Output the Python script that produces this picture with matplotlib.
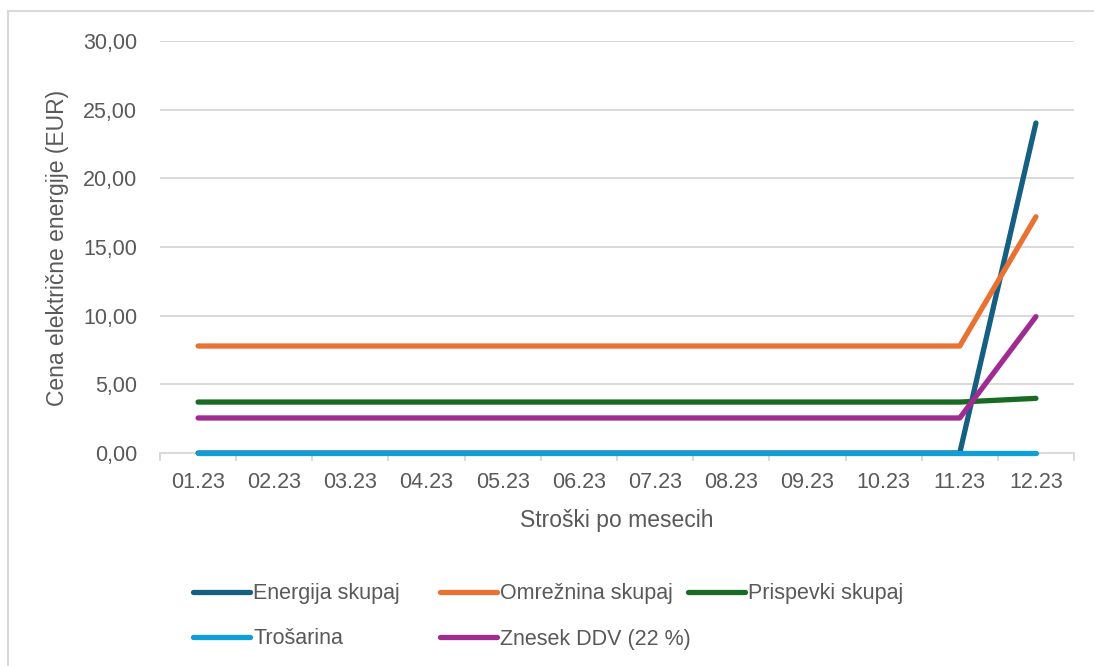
import matplotlib
matplotlib.use("Agg")
import matplotlib.pyplot as plt
from matplotlib.lines import Line2D
from matplotlib.patches import Rectangle
from matplotlib.ticker import FuncFormatter, FixedLocator

plt.rcParams['font.family'] = ['Liberation Sans', 'DejaVu Sans']

months = ["01.23", "02.23", "03.23", "04.23", "05.23", "06.23",
          "07.23", "08.23", "09.23", "10.23", "11.23", "12.23"]

energija = [0.00, 0.00, 0.00, 0.00, 0.00, 0.00, 0.00, 0.00, 0.00, 0.00, 0.00, 24.03]
omreznina = [7.79, 7.79, 7.79, 7.79, 7.79, 7.79, 7.79, 7.79, 7.79, 7.79, 7.79, 17.20]
prispevki = [3.71, 3.71, 3.71, 3.71, 3.71, 3.71, 3.71, 3.71, 3.71, 3.71, 3.71, 3.98]
trosarina = [0.00, 0.00, 0.00, 0.00, 0.00, 0.00, 0.00, 0.00, 0.00, 0.00, 0.00, 0.00]
ddv = [2.55, 2.55, 2.55, 2.55, 2.55, 2.55, 2.55, 2.55, 2.55, 2.55, 2.55, 9.93]

series_names = ["Energija skupaj", "Omrežnina skupaj", "Prispevki skupaj",
                "Trošarina", "Znesek DDV (22 %)"]
series_values = [energija, omreznina, prispevki, trosarina, ddv]
colors = ["#156082", "#E97132", "#196B24", "#0F9ED5", "#A02B93"]

W, H = 1094, 666
TEXT = "#595959"
GRID = "#D9D9D9"

fig = plt.figure(figsize=(W / 100, H / 100), dpi=100)
ax = fig.add_axes([160 / W, 1 - 453 / H, 914 / W, 412 / H])

x = list(range(len(months)))
# Draw in an order that keeps the flat light-blue line on top of the baseline
draw_order = [0, 1, 2, 4, 3]
for i in draw_order:
    ax.plot(x, series_values[i], color=colors[i], lw=3.8, clip_on=False,
            solid_capstyle='round', solid_joinstyle='round', zorder=3 + (i == 3))

ax.set_xlim(-0.5, len(months) - 0.5)
ax.set_ylim(0, 30)
ax.set_yticks([0, 5, 10, 15, 20, 25, 30])
ax.yaxis.set_major_formatter(FuncFormatter(lambda v, p: f"{v:.2f}".replace(".", ",")))
ax.grid(axis='y', color=GRID, lw=1.4, zorder=0)
ax.set_axisbelow(True)

ax.set_xticks(x)
ax.set_xticklabels(months)
ax.xaxis.set_minor_locator(FixedLocator([v - 0.5 for v in range(len(months) + 1)]))
ax.tick_params(axis='x', which='major', length=0, pad=14, labelsize=15.5, labelcolor=TEXT)
ax.tick_params(axis='x', which='minor', length=6, width=1.4, color=GRID)
ax.tick_params(axis='y', length=0, pad=16.5, labelsize=15.5, labelcolor=TEXT)

for s in ['top', 'right', 'left']:
    ax.spines[s].set_visible(False)
ax.spines['bottom'].set_color(GRID)
ax.spines['bottom'].set_linewidth(1.4)

fig.text(58 / W, 1 - 248 / H, "Cena električne energije (EUR)", rotation=90,
         ha='center', va='center', fontsize=16.5, color=TEXT)
fig.text(617 / W, 1 - 521 / H, "Stroški po mesecih",
         ha='center', va='center', fontsize=16.5, color=TEXT)

# Legend entries laid out on a fixed grid
legend_pos = [(193, 594), (440, 594), (688, 594), (193, 639), (440, 639)]
for (lx, ly), name, col in zip(legend_pos, series_names, colors):
    h = Line2D([], [], color=col, lw=3.8, solid_capstyle='round')
    leg = fig.legend([h], [name], loc='center left',
                     bbox_to_anchor=(lx / W, 1 - ly / H), frameon=False,
                     borderpad=0, borderaxespad=0, handlelength=2.65,
                     handletextpad=0.15, fontsize=15.5)
    for t in leg.get_texts():
        t.set_color(TEXT)

# Chart area border
fig.patches.append(Rectangle((8 / W, -0.2), 1.2, 1.2 - 11 / H,
                             transform=fig.transFigure, fill=False,
                             edgecolor=GRID, lw=1.5))

fig.savefig("out.png", dpi=100, facecolor="white")
